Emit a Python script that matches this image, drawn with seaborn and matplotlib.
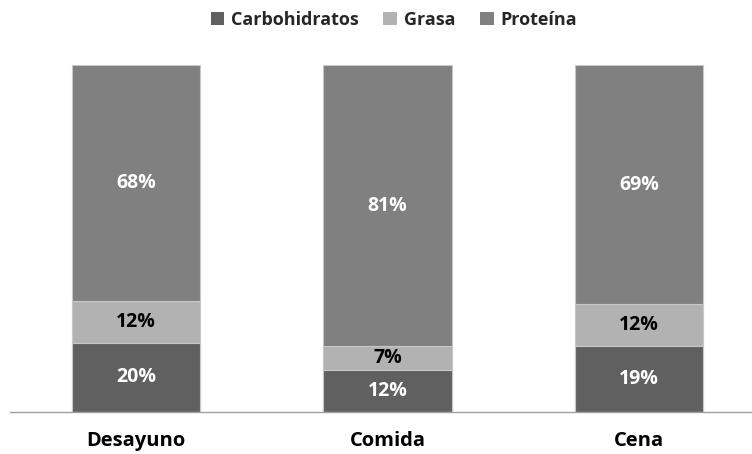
import numpy as np
import pandas as pd
import matplotlib
matplotlib.use("Agg")
import matplotlib.pyplot as plt
import seaborn as sns
from matplotlib.patches import Patch

categories = ["Desayuno", "Comida", "Cena"]
carbohidratos = [20, 12, 19]
grasa = [12, 7, 12]
proteina = [68, 81, 69]
series_names = ["Carbohidratos", "Grasa", "Proteína"]
colors = {"Carbohidratos": "#606060", "Grasa": "#b2b2b2", "Proteína": "#808080"}
text_colors = {"Carbohidratos": "white", "Grasa": "black", "Proteína": "white"}

sns.set_theme(style="white")
plt.rcParams['font.family'] = ['Open Sans', 'DejaVu Sans']

df = pd.DataFrame({"categoria": categories, "Carbohidratos": carbohidratos,
                   "Grasa": grasa, "Proteína": proteina})
df["c1"] = df["Carbohidratos"]
df["c2"] = df["c1"] + df["Grasa"]
df["c3"] = df["c2"] + df["Proteína"]

fig = plt.figure(figsize=(7.52, 4.54), dpi=100)
ax = fig.add_axes([10/752, 1 - 412/454, (752-10)/752, (412-65)/454])

for col, name in [("c3", "Proteína"), ("c2", "Grasa"), ("c1", "Carbohidratos")]:
    sns.barplot(data=df, x="categoria", y=col, color=colors[name], width=0.51,
                saturation=1, edgecolor="#c8c8c8", linewidth=0.8, ax=ax)

for i in range(len(categories)):
    bottom = 0
    for name in series_names:
        v = df.loc[i, name]
        ax.text(i, bottom + v / 2, f"{v}%", ha="center", va="center",
                color=text_colors[name], fontsize=14, fontweight="bold")
        bottom += v

ax.set_ylim(0, 100)
ax.set_xlim(-0.501, 2.449)
ax.set_xlabel("")
ax.set_ylabel("")
ax.set_yticks([])
ax.tick_params(axis="x", length=0, pad=14)
for lbl in ax.get_xticklabels():
    lbl.set_fontsize(14.5)
    lbl.set_fontweight("bold")
    lbl.set_color("black")
for s in ["top", "left", "right"]:
    ax.spines[s].set_visible(False)
ax.spines["bottom"].set_color("#a0a0a0")
ax.spines["bottom"].set_linewidth(1)

handles = [Patch(facecolor=colors[n], edgecolor="none", label=n) for n in series_names]
fig.legend(handles=handles, loc="center", bbox_to_anchor=(394/752, 1 - 20/454),
           ncol=3, frameon=False, handlelength=0.75, handleheight=0.75,
           handletextpad=0.4, columnspacing=1.35,
           prop={"size": 13, "weight": "bold"})

fig.savefig("out.png", dpi=100)
